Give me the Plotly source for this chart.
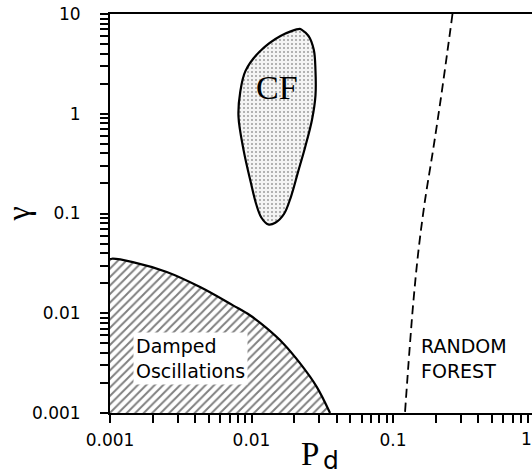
import math
import plotly.graph_objects as go

# ---- data (log-log phase diagram) ----
damped_pd = [0.001, 0.00103, 0.00145, 0.00252, 0.00433, 0.0074, 0.00975, 0.0128, 0.0167, 0.022, 0.0289, 0.0359]
damped_gamma = [0.0347, 0.0352, 0.0326, 0.0259, 0.0183, 0.0120, 0.00955, 0.00708, 0.00501, 0.00316, 0.00183, 0.001]

cf_pd = [0.02193, 0.01603, 0.01139, 0.00907, 0.00833, 0.00809, 0.00882, 0.00989, 0.01076, 0.01173,
         0.01315, 0.01473, 0.01697, 0.01902, 0.02131, 0.02388, 0.02677, 0.02833, 0.02833, 0.02756,
         0.02528, 0.02256, 0.02193]
cf_gamma = [7.08, 6.03, 4.19, 2.69, 1.66, 0.944, 0.422, 0.204, 0.126, 0.0912,
            0.0776, 0.0807, 0.0989, 0.148, 0.26, 0.457, 0.871, 1.53, 2.69, 4.37,
            6.03, 6.97, 7.08]

forest_pd = [0.2633, 0.2427, 0.2166, 0.1917, 0.1683, 0.1514, 0.1396, 0.1308, 0.1215]
forest_gamma = [10, 4.27, 1.35, 0.427, 0.135, 0.0427, 0.0135, 0.00427, 0.001]

decades = [0.001, 0.01, 0.1, 1, 10]
decade_labels = ["0.001", "0.01", "0.1", "1", "10"]
minor_digits = [2, 3, 4, 5, 6, 7, 8, 9]

labels = {"cf": "CF", "damped": "Damped<br>Oscillations", "forest": "RANDOM<br>FOREST",
          "x_main": "P", "x_sub": "d", "y": "γ"}

SANS = "DejaVu Sans"
SERIF = "Liberation Serif"

# all tick positions (decades labelled, intermediate digits unlabelled)
tick_vals, tick_text = [], []
for d, lab in zip(decades, decade_labels):
    tick_vals.append(d)
    tick_text.append(lab)
    if d < decades[-1]:
        for m in minor_digits:
            tick_vals.append(d * m)
            tick_text.append("")

fig = go.Figure()

# Damped oscillations hatched region
fig.add_trace(go.Scatter(
    x=[0.001] + damped_pd, y=[0.001] + damped_gamma,
    mode="lines", fill="toself", line=dict(width=0, color="black"),
    fillcolor="white",
    fillpattern=dict(shape="/", size=6, solidity=0.32, fgcolor="black", bgcolor="white"),
    hoverinfo="skip", showlegend=False))
fig.add_trace(go.Scatter(
    x=damped_pd, y=damped_gamma, mode="lines",
    line=dict(color="black", width=2.2, shape="spline"),
    hoverinfo="skip", showlegend=False))

# CF stippled blob
fig.add_trace(go.Scatter(
    x=cf_pd, y=cf_gamma, mode="lines", fill="toself",
    line=dict(color="black", width=2.2, shape="spline", smoothing=1),
    fillcolor="white",
    fillpattern=dict(shape=".", size=4, solidity=0.2, fgcolor="#444444", bgcolor="#f4f4f4"),
    hoverinfo="skip", showlegend=False))

# Random forest boundary (dashed)
fig.add_trace(go.Scatter(
    x=forest_pd, y=forest_gamma, mode="lines",
    line=dict(color="black", width=1.8, dash="9px,5px", shape="spline"),
    hoverinfo="skip", showlegend=False))


def lx(v):
    return math.log10(v)


fig.add_annotation(x=lx(0.0152), y=lx(1.82), xref="x", yref="y", text=labels["cf"],
                   showarrow=False, font=dict(family=SERIF, size=34, color="black"))
fig.add_annotation(x=lx(0.00146), y=lx(0.00355), xref="x", yref="y", text=labels["damped"],
                   showarrow=False, xanchor="left", yanchor="middle", align="left",
                   bgcolor="white", borderpad=2,
                   font=dict(family=SANS, size=19, color="black"))
fig.add_annotation(x=lx(0.153), y=lx(0.00355), xref="x", yref="y", text=labels["forest"],
                   showarrow=False, xanchor="left", yanchor="middle", align="left",
                   font=dict(family=SANS, size=19, color="black"))
# tick label "1" that sits just past the visible right edge
fig.add_annotation(x=1.0059, y=0, xref="paper", yref="paper", text="1",
                   showarrow=False, yanchor="top", yshift=-14,
                   font=dict(family=SANS, size=17, color="black"))
# x-axis title  P_d  (serif P, sans subscript d)
fig.add_annotation(x=0.4735, y=0, xref="paper", yref="paper", text=labels["x_main"],
                   showarrow=False, xanchor="center", yanchor="middle", yshift=-41,
                   font=dict(family=SERIF, size=33, color="black"))
fig.add_annotation(x=0.5235, y=0, xref="paper", yref="paper", text=labels["x_sub"],
                   showarrow=False, xanchor="center", yanchor="middle", yshift=-47,
                   font=dict(family=SANS, size=25, color="black"))

xend = -3 + 422 / 141.5

tick_common = dict(
    showgrid=False, zeroline=False,
    showline=True, linecolor="black", linewidth=2,
    ticks="outside", tickwidth=2, tickcolor="black", ticklen=8,
    tickfont=dict(family=SANS, size=17, color="black"),
    tickmode="array", tickvals=tick_vals, ticktext=tick_text,
)

fig.update_layout(
    width=532, height=475,
    margin=dict(l=110, r=0, t=14, b=62),
    paper_bgcolor="white", plot_bgcolor="white",
    font=dict(family=SANS, color="black"),
    xaxis=dict(
        type="log", range=[-3, xend], mirror=True, ticklabelstandoff=3,
        **tick_common,
    ),
    yaxis=dict(
        type="log", range=[-3, 1], mirror=False, ticklabelstandoff=16,
        title=dict(text=labels["y"], font=dict(family=SERIF, size=32, color="black"), standoff=8),
        **tick_common,
    ),
)

fig.write_html("out.html")
